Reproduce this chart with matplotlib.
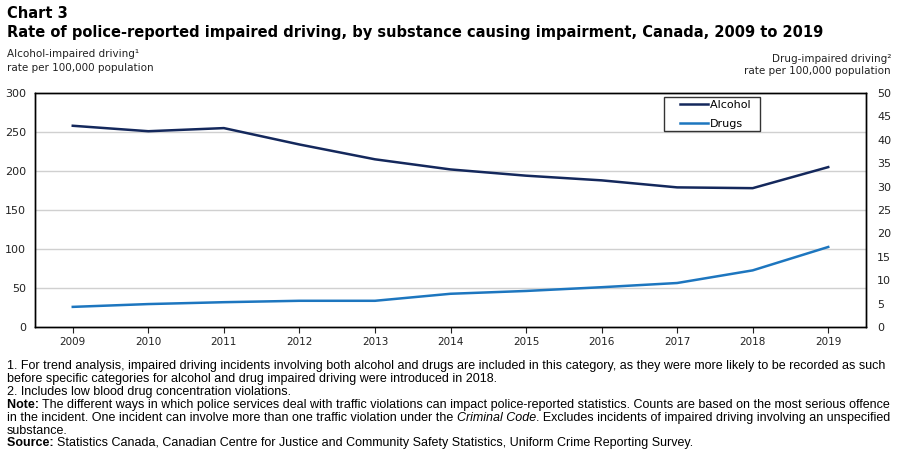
import matplotlib
matplotlib.use("Agg")
import matplotlib.pyplot as plt
from matplotlib.font_manager import FontProperties, findfont
from matplotlib.legend_handler import HandlerLine2D

years = [2009, 2010, 2011, 2012, 2013, 2014, 2015, 2016, 2017, 2018, 2019]
alcohol = [258, 251, 255, 234, 215, 202, 194, 188, 179, 178, 205]
drugs = [4.3, 4.9, 5.3, 5.6, 5.6, 7.1, 7.7, 8.5, 9.4, 12.1, 17.1]
left_ticks = [0, 50, 100, 150, 200, 250, 300]
right_ticks = [0, 5, 10, 15, 20, 25, 30, 35, 40, 45, 50]

plt.rcParams['font.family'] = ['DejaVu Sans']
W, H = 901, 454
fig = plt.figure(figsize=(W/100, H/100), dpi=100)
ax = fig.add_axes([35/W, 1-327/H, (866-35)/W, (327-93)/H])
ax2 = ax.twinx()

c_alc = '#14285c'
c_drug = '#1d76bf'
tc = '#222222'

ln1, = ax.plot(years, alcohol, color=c_alc, lw=1.8, label='Alcohol')
ln2, = ax2.plot(years, drugs, color=c_drug, lw=1.8, label='Drugs')

ax.set_xlim(2008.5, 2019.5)
ax.set_ylim(0, 300)
ax2.set_ylim(0, 50)
ax.set_yticks(left_ticks)
ax2.set_yticks(right_ticks)
ax.set_xticks(years)
ax.set_xticklabels([str(y) for y in years])
for y in left_ticks[1:-1]:
    ax.axhline(y, color='#d0d0d0', lw=1, zorder=0)

for a in (ax, ax2):
    for s in a.spines.values():
        s.set_color('black')
        s.set_linewidth(1)
ax.tick_params(axis='y', length=0, labelsize=8, colors=tc, pad=6.5)
ax2.tick_params(axis='y', length=0, labelsize=8, colors=tc, pad=8)
ax.tick_params(axis='x', length=4, labelsize=7.5, colors=tc, pad=3, direction='out')


class ShiftedLine(HandlerLine2D):
    def create_artists(self, legend, orig_handle, xdescent, ydescent, width, height, fontsize, trans):
        arts = super().create_artists(legend, orig_handle, xdescent, ydescent, width, height, fontsize, trans)
        for a in arts:
            xd = list(a.get_xdata())
            if len(xd) >= 2:
                xd[0] = xd[0] + width * 0.32
                a.set_xdata(xd)
        return arts


leg = ax.legend([ln1, ln2], ['Alcohol  ', 'Drugs'], loc='upper left',
                bbox_to_anchor=((664-35)/(866-35), 1-(97-93)/(327-93)),
                fontsize=8, frameon=True, fancybox=False, edgecolor='black',
                handlelength=3.7, handletextpad=0.15, borderpad=0.25, labelspacing=0.8,
                borderaxespad=0, handler_map={type(ln1): ShiftedLine()})
leg.get_frame().set_linewidth(1)

fig.text(7/W, 1-14/H, 'Chart 3', fontsize=10.5, fontweight='bold', color='black', va='center')
fig.text(7/W, 1-32/H, 'Rate of police-reported impaired driving, by substance causing impairment, Canada, 2009 to 2019',
         fontsize=10.5, fontweight='bold', color='black', va='center')
fig.text(7/W, 1-54/H, 'Alcohol-impaired driving\u00b9', fontsize=7.5, color=tc, va='center')
fig.text(7/W, 1-68/H, 'rate per 100,000 population', fontsize=7.5, color=tc, va='center')
fig.text(891/W, 1-59/H, 'Drug-impaired driving\u00b2', fontsize=7.5, color=tc, va='center', ha='right')
fig.text(891/W, 1-71/H, 'rate per 100,000 population', fontsize=7.5, color=tc, va='center', ha='right')

# choose footnote font
fam = None
for cand in ['Liberation Sans Narrow', 'DejaVu Sans Condensed', 'Liberation Sans']:
    try:
        findfont(FontProperties(family=cand), fallback_to_default=False)
        fam = cand
        break
    except Exception:
        pass
if fam is None:
    fam = 'DejaVu Sans'

fig.canvas.draw()
r = fig.canvas.get_renderer()
line1 = '1. For trend analysis, impaired driving incidents involving both alcohol and drugs are included in this category, as they were more likely to be recorded as such'
fsize = 8.0
for _ in range(3):
    probe = fig.text(0, 0, line1, fontproperties=FontProperties(family=fam, size=fsize))
    wid = probe.get_window_extent(renderer=r).width
    probe.remove()
    fsize = fsize * 880 / wid


def fp(kind='n'):
    return FontProperties(family=fam, size=fsize,
                          weight='bold' if kind == 'b' else 'normal',
                          style='italic' if kind == 'i' else 'normal')


def mixed(y, parts):
    x = 7
    for txt, kind in parts:
        t = fig.text(x/W, 1-y/H, txt, fontproperties=fp(kind), color='black', va='center')
        bb = t.get_window_extent(renderer=r)
        x += bb.width


mixed(366, [(line1, 'n')])
mixed(379, [('before specific categories for alcohol and drug impaired driving were introduced in 2018.', 'n')])
mixed(392, [('2. Includes low blood drug concentration violations.', 'n')])
mixed(405, [('Note: ', 'b'), ('The different ways in which police services deal with traffic violations can impact police-reported statistics. Counts are based on the most serious offence', 'n')])
mixed(418, [('in the incident. One incident can involve more than one traffic violation under the ', 'n'), ('Criminal Code', 'i'), ('. Excludes incidents of impaired driving involving an unspecified', 'n')])
mixed(431, [('substance.', 'n')])
mixed(443, [('Source: ', 'b'), ('Statistics Canada, Canadian Centre for Justice and Community Safety Statistics, Uniform Crime Reporting Survey.', 'n')])

fig.savefig('out.png', dpi=100)
